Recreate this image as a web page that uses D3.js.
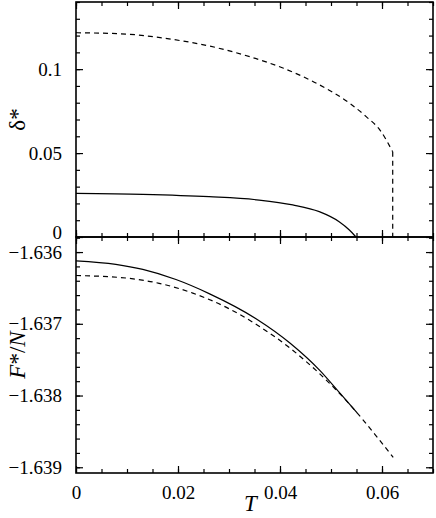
<!DOCTYPE html>
<html><head><meta charset="utf-8">
<script src="https://cdn.jsdelivr.net/npm/d3@7"></script>
<style>body{margin:0;background:#fff}svg{display:block}svg text{font-family:"Liberation Serif","Times New Roman",serif}</style>
</head><body>
<svg id="c" width="436" height="518"></svg>
<script>
// ---- data ----
const deltaDashT = [0, 0.0098, 0.0176, 0.0261, 0.0341, 0.0407, 0.0472, 0.0537, 0.0569, 0.0596, 0.0621];
const deltaDash  = [0.1217, 0.1209, 0.1183, 0.1138, 0.1074, 0.1005, 0.0915, 0.0796, 0.0717, 0.0637, 0.0508];
const deltaDropT = [0.0621, 0.0621];
const deltaDrop  = [0.0508, 0];
const deltaSolidT = [0, 0.0131, 0.0261, 0.0359, 0.0425, 0.0477, 0.0516, 0.0536, 0.0549];
const deltaSolid  = [0.0260, 0.0254, 0.0240, 0.0220, 0.0191, 0.0151, 0.0091, 0.0042, 0];
const fSolidT = [0, 0.0078, 0.0131, 0.0196, 0.0261, 0.0353, 0.0420, 0.0478, 0.0518, 0.0551];
const fSolid  = [-1.636122, -1.636171, -1.636242, -1.636383, -1.636579, -1.636929, -1.637271, -1.637649, -1.637971, -1.638240];
const fDashT = [0, 0.0098, 0.0163, 0.0229, 0.0294, 0.0353, 0.0420, 0.0478, 0.0537, 0.0586, 0.0622];
const fDash  = [-1.636327, -1.636362, -1.636436, -1.636572, -1.636768, -1.637006, -1.637341, -1.637698, -1.638126, -1.638540, -1.638862];
const xTicks = [0, 0.02, 0.04, 0.06];
const xTickLabels = ["0", "0.02", "0.04", "0.06"];
const topTicks = [0, 0.05, 0.1];
const topTickLabels = ["0", "0.05", "0.1"];
const botTicks = [-1.636, -1.637, -1.638, -1.639];
const botTickLabels = ["\u22121.636", "\u22121.637", "\u22121.638", "\u22121.639"];

// ---- layout ----
const svg = d3.select("#c");
const L = 76, R = 433, T0 = 2, MID = 237, B = 473;
const font = '"Liberation Serif", "Times New Roman", serif';
const x = d3.scaleLinear().domain([0, 0.07]).range([L, R]);
const yTop = d3.scaleLinear().domain([0, 0.14]).range([MID, T0]);
const yBot = d3.scaleLinear().domain([-1.63908, -1.63579]).range([B, MID]);
const MAJ = 7, MIN = 4;

function range(a, b, s) { const r = []; for (let v = a; v <= b + s * 1e-6; v += s) r.push(+v.toFixed(6)); return r; }
const xMinor = range(0, 0.07, 0.005);
const topMinor = range(0, 0.14, 0.01);
const botMinor = range(-1.639, -1.6358, 0.0002);

function styleAxis(g) {
  g.attr("font-family", null).attr("font-size", null);
  g.select(".domain").remove();
  g.selectAll(".tick line").attr("stroke", "#000").attr("stroke-width", 1.2);
  g.selectAll(".tick text").style("font-family", font).style("font-size", "19px").attr("fill", "#000");
}

function panel(y, yTicksV, yLabels, yMinor, top, bottom, showX, zeroShift) {
  svg.append("g").attr("transform", `translate(${L},0)`)
    .call(d3.axisLeft(y).tickValues(yMinor).tickSize(-MIN).tickFormat("")).call(styleAxis);
  const gl = svg.append("g").attr("transform", `translate(${L},0)`)
    .call(d3.axisLeft(y).tickValues(yTicksV).tickSize(-MAJ).tickPadding(MAJ + 7)
      .tickFormat((d, i) => yLabels[i])).call(styleAxis);
  if (zeroShift) gl.selectAll(".tick text").filter(d => d === 0).attr("dy", "0.1em");
  svg.append("g").attr("transform", `translate(${R},0)`)
    .call(d3.axisRight(y).tickValues(yMinor).tickSize(-MIN).tickFormat("")).call(styleAxis);
  svg.append("g").attr("transform", `translate(${R},0)`)
    .call(d3.axisRight(y).tickValues(yTicksV).tickSize(-MAJ).tickFormat("")).call(styleAxis);
  svg.append("g").attr("transform", `translate(0,${top})`)
    .call(d3.axisTop(x).tickValues(xMinor).tickSize(-MIN).tickFormat("")).call(styleAxis);
  svg.append("g").attr("transform", `translate(0,${top})`)
    .call(d3.axisTop(x).tickValues(xTicks).tickSize(-MAJ).tickFormat("")).call(styleAxis);
  svg.append("g").attr("transform", `translate(0,${bottom})`)
    .call(d3.axisBottom(x).tickValues(xMinor).tickSize(-MIN).tickFormat("")).call(styleAxis);
  svg.append("g").attr("transform", `translate(0,${bottom})`)
    .call(d3.axisBottom(x).tickValues(xTicks).tickSize(-MAJ).tickPadding(MAJ + 6)
      .tickFormat((d, i) => showX ? xTickLabels[i] : "")).call(styleAxis);
  svg.append("rect").attr("x", L).attr("y", top).attr("width", R - L).attr("height", bottom - top)
    .attr("fill", "none").attr("stroke", "#000").attr("stroke-width", 1.6);
}

panel(yTop, topTicks, topTickLabels, topMinor, T0, MID, false, true);
panel(yBot, botTicks, botTickLabels, botMinor, MID, B, true, false);

function drawLine(ts, vs, y, dashed, curve) {
  const pts = ts.map((t, i) => [t, vs[i]]);
  svg.append("path").datum(pts)
    .attr("d", d3.line().x(d => x(d[0])).y(d => y(d[1])).curve(curve || d3.curveMonotoneX))
    .attr("fill", "none").attr("stroke", "#000").attr("stroke-width", 1.2)
    .attr("stroke-dasharray", dashed ? "5,4" : null);
}
drawLine(deltaDashT, deltaDash, yTop, true);
drawLine(deltaDropT, deltaDrop, yTop, true, d3.curveLinear);
drawLine(deltaSolidT, deltaSolid, yTop, false);
drawLine(fSolidT, fSolid, yBot, false);
drawLine(fDashT, fDash, yBot, true);

// axis labels
svg.append("text").attr("transform", `translate(25,${(T0 + MID) / 2}) rotate(-90)`)
  .attr("text-anchor", "middle").style("font-family", font).style("font-size", "23px")
  .text("\u03B4*");
const fl = svg.append("text").attr("transform", `translate(25,${(MID + B) / 2}) rotate(-90)`)
  .attr("text-anchor", "middle").style("font-family", font).style("font-size", "23px");
fl.append("tspan").attr("font-style", "italic").text("F");
fl.append("tspan").text("*/");
fl.append("tspan").attr("font-style", "italic").text("N");
svg.append("text").attr("x", (L + R) / 2 - 4).attr("y", 511).attr("text-anchor", "middle")
  .style("font-family", font).style("font-size", "23px").attr("font-style", "italic").text("T");
</script>
</body></html>
